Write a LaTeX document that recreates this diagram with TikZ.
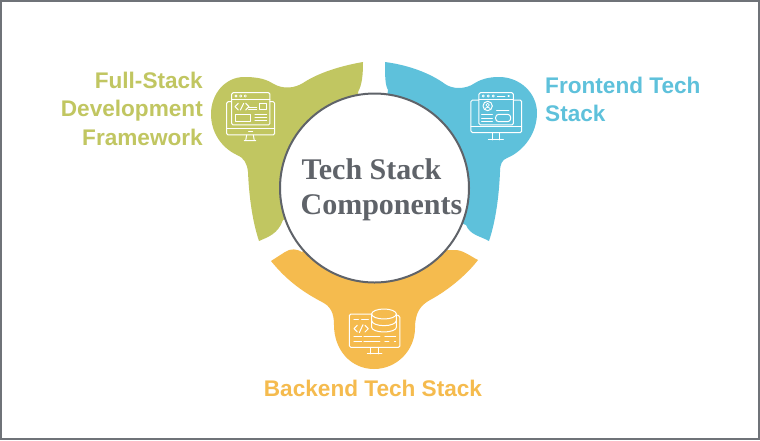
\documentclass[tikz,border=0pt]{standalone}
\usepackage{fontspec}
\setmainfont{Liberation Serif}
\newfontfamily\labelfont[Ligatures=TeX]{Liberation Sans}
\definecolor{cgreen}{HTML}{C1C661}
\definecolor{cblue}{HTML}{5EC1DB}
\definecolor{corange}{HTML}{F5BB4E}
\definecolor{cgrey}{HTML}{5F6369}
\tikzset{
  lab/.style={font=\labelfont\bfseries\fontsize{22.6}{26}\selectfont,inner sep=0pt},
  title/.style={font=\bfseries\fontsize{30}{38}\selectfont,text=cgrey,inner sep=0pt,anchor=base},
  ico/.style={draw=white,line width=1pt,line cap=round,line join=round},
}
\begin{document}
\begin{tikzpicture}[x=1pt,y=-1pt]
\useasboundingbox (0,0) rectangle (760,440);
\fill[white] (0,0) rectangle (760,440);
\draw[color=cgrey!90,line width=2pt] (1,1) rectangle (759,439);
% green petal
\fill[cgreen] (363,62) .. controls (340,66) and (318,73) .. (303,83)
  .. controls (295,88) and (283,90) .. (272,83)
  .. controls (264,78) and (254,77) .. (244,77)
  .. controls (226,77) and (211,93) .. (211,114)
  .. controls (211,133) and (222,148) .. (237,155)
  .. controls (244,158) and (247,163) .. (248,172)
  .. controls (249,195) and (252,220) .. (259,241)
  .. controls (268,237) and (278,234) .. (283,220)
  -- (374,188) -- (358,92)
  .. controls (362,85) and (363,75) .. (363,62) -- cycle;
% blue petal
\fill[cblue] (385,62) .. controls (408,65) and (430,73) .. (445,84)
  .. controls (452,89) and (465,90) .. (475,83)
  .. controls (483,78) and (492,77) .. (499,77)
  .. controls (520,77) and (537,93) .. (537,113)
  .. controls (537,133) and (524,151) .. (507,158)
  .. controls (502,160) and (500,164) .. (500,172)
  .. controls (499,195) and (496,220) .. (489,241)
  .. controls (480,236) and (470,235) .. (466,225)
  -- (374,188) -- (388,90)
  .. controls (385,85) and (385,75) .. (385,62) -- cycle;
% orange petal
\fill[corange] (271,261) .. controls (288,282) and (305,293) .. (322,302)
  .. controls (330,306) and (334,312) .. (334,325)
  .. controls (334,350) and (351,369) .. (374,369)
  .. controls (397,369) and (415,350) .. (415,328)
  .. controls (415,312) and (421,305) .. (430,300)
  .. controls (445,292) and (465,277) .. (478,260)
  .. controls (470,256) and (463,250) .. (455,250)
  -- (447,250) -- (374,188) -- (302,252)
  .. controls (297,249) and (291,248) .. (285,252) -- cycle;
% centre
\node[circle,draw=cgrey,line width=2pt,fill=white,minimum size=189pt,inner sep=0pt] (hub) at (374.5,188) {};
\node[title] (t1) at (371.5,179) {Tech Stack};
\node[title] (t2) at (381.5,214) {Components};
% labels
\node[lab,text=cgreen,anchor=base east] (g1) at (203,88) {Full-Stack};
\node[lab,text=cgreen,anchor=base east] (g2) at (203,116) {Development};
\node[lab,text=cgreen,anchor=base east] (g3) at (203,145) {Framework};
\node[lab,text=cblue,anchor=base west] (b1) at (545,93) {Frontend Tech};
\node[lab,text=cblue,anchor=base west] (b2) at (545,121) {Stack};
\node[lab,text=corange,anchor=base] (o1) at (373,396) {Backend Tech Stack};
% green icon
\begin{scope}[shift={(200pt,-50pt)},x=0.3333pt,y=-0.3333pt]
\draw[ico,rounded corners=1.5pt] (95,155)--(80,155)--(80,255)--(224,255)--(224,155)--(210,155);
\draw[ico] (80,236)--(224,236);
\draw[ico] (146,245)--(158,245);
\draw[ico] (140,255)--(137,272) (160,255)--(163,272) (133,272)--(167,272);
\draw[ico,rounded corners=1.5pt] (95,128) rectangle (210,225);
\draw[ico] (95,147)--(210,147);
\foreach \p in {108,122,136}\draw[ico,line width=.7pt] (\p,138) circle (3.5);
\draw[ico] (115,160)--(105,170)--(115,180) (131,160)--(121,180) (137,160)--(147,170)--(137,180);
\draw[ico] (146,172)--(170,172) (146,180)--(170,180);
\draw[ico] (180,160) rectangle (200,180);
\draw[ico] (107,193) rectangle (152,215);
\draw[ico] (165,195)--(200,195) (165,204)--(200,204) (165,213)--(200,213);
\end{scope}
% blue icon
\begin{scope}[shift={(370pt,-50pt)},x=0.3333pt,y=-0.3333pt]
\draw[ico,rounded corners=1.5pt] (327,150)--(303,150)--(303,248)--(455,248)--(455,150)--(430,150);
\draw[ico] (303,230)--(455,230);
\draw[ico] (367,248)--(367,270) (388,248)--(388,270) (355,270)--(400,270);
\draw[ico,rounded corners=1.5pt,fill=cblue] (327,128) rectangle (430,225);
\draw[ico] (327,147)--(430,147);
\foreach \p in {340,355,370}\draw[ico,line width=.7pt] (\p,138) circle (3.5);
\draw[ico] (382,138)--(405,138);
\draw[ico,line width=.7pt] (416,138) circle (2);
\draw[ico] (353,168) circle (14);
\draw[ico,line width=.7pt] (353,165) circle (5) (345,178) arc (180:360:8 and 6);
\draw[ico] (380,182)--(417,182);
\draw[ico] (335,195)--(367,195) (335,205)--(367,205) (335,214)--(367,214);
\draw[ico,rounded corners=3pt] (377,193) rectangle (422,215);
\end{scope}
% orange icon
\begin{scope}[shift={(260pt,-240pt)},x=0.3333pt,y=-0.3333pt]
\draw[ico,rounded corners=1.5pt] (335,222)--(268,222)--(268,322)--(420,322)--(420,228)--(410,225);
\draw[ico] (333,322)--(333,342) (355,322)--(355,342) (322,342)--(366,342);
\draw[ico,fill=corange] (335,222)--(335,262) arc (180:0:37 and 14)--(409,222) arc (0:-180:37 and 15)--cycle;
\draw[ico] (335,222) arc (180:0:37 and 15);
\draw[ico] (335,242) arc (180:0:37 and 15);
\draw[ico] (282,240)--(295,240) (305,240)--(325,240);
\draw[ico] (292,256)--(282,266)--(292,276) (309,254)--(298,278) (315,256)--(325,266)--(315,276);
\draw[ico] (282,290)--(305,290) (312,290)--(360,290) (375,290)--(407,290);
\draw[ico] (282,305)--(305,305) (312,305)--(360,305) (375,305)--(387,305) (403,305)--(407,305);
\end{scope}
\end{tikzpicture}
\end{document}
